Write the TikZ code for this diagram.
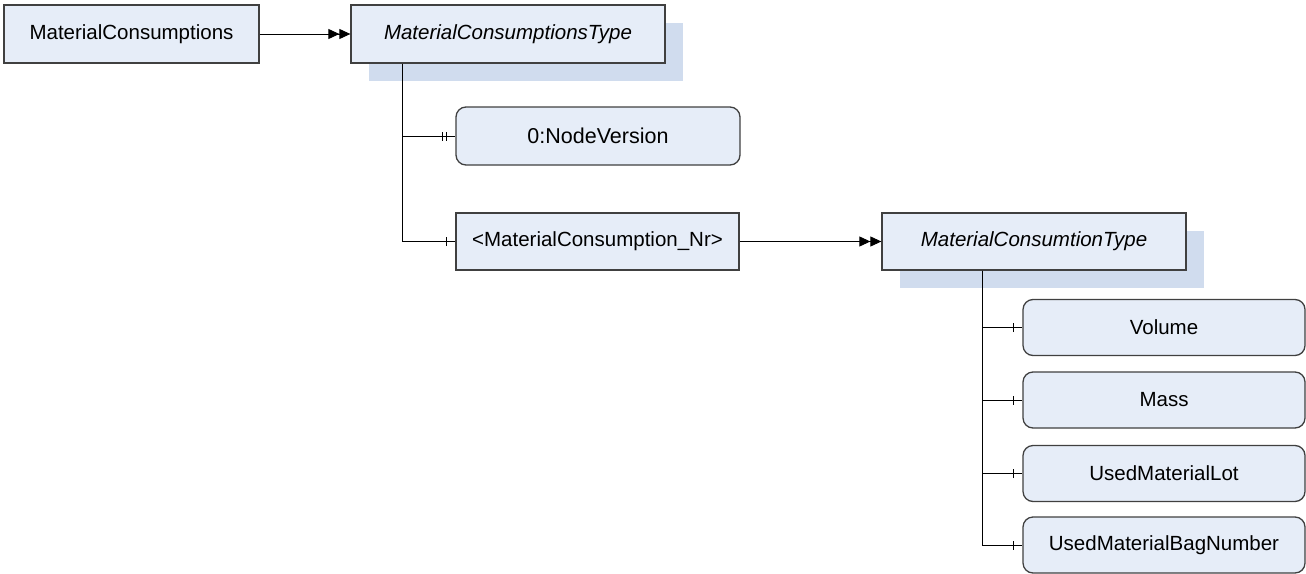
\documentclass[tikz,border=0pt]{standalone}
\usepackage{fontspec}
\setmainfont{Liberation Sans}
\usetikzlibrary{arrows.meta,shadows,decorations.markings,calc}
\definecolor{boxfill}{HTML}{E6EDF8}
\definecolor{shadowc}{HTML}{D0DCEE}
\definecolor{boxline}{HTML}{404040}
\tikzset{
  base/.style={draw=boxline, fill=boxfill, line width=1.3pt, inner sep=0pt,
    font=\fontsize{20.5}{24}\selectfont, text=black},
  plainbox/.style={base, rectangle},
  typebox/.style={base, rectangle, font=\fontsize{20.5}{24}\selectfont\itshape,
    general shadow={fill=shadowc, shadow xshift=18pt, shadow yshift=-18pt}},
  roundbox/.style={base, rectangle, rounded corners=10pt},
  conn/.style={draw=black, line width=0.9pt},
  dblarrow/.style={conn, -{Triangle[length=11pt,width=10pt,sep=0pt]Triangle[length=11pt,width=10pt]}},
  onetick/.style={conn, postaction={decorate, decoration={markings,
    mark=at position -9pt with {\draw[line width=0.8pt] (0,-4.5pt) -- (0,4.5pt);}}}},
  twotick/.style={conn, postaction={decorate, decoration={markings,
    mark=at position -13pt with {\draw[line width=0.8pt] (0,-4.5pt) -- (0,4.5pt);},
    mark=at position -9pt with {\draw[line width=0.8pt] (0,-4.5pt) -- (0,4.5pt);}}}},
}
\begin{document}
\begin{tikzpicture}[x=1pt,y=-1pt]
\useasboundingbox (0,0) rectangle (1306,573);
% nodes
\node[plainbox, minimum width=255pt, minimum height=58pt] (A) at (131.5,34) {MaterialConsumptions};
\node[typebox, minimum width=314pt, minimum height=58pt] (B) at (508,34) {MaterialConsumptionsType};
\node[roundbox, minimum width=284pt, minimum height=58pt, font=\fontsize{21.5}{24}\selectfont] (NV) at (598,136) {0:NodeVersion};
\node[plainbox, minimum width=283pt, minimum height=57pt] (MC) at (597.5,241.5) {<MaterialConsumption\_Nr>};
\node[typebox, minimum width=304pt, minimum height=57pt] (C) at (1034,241.5) {MaterialConsumtionType};
\node[roundbox, minimum width=282pt, minimum height=56pt] (V) at (1164,327.5) {Volume};
\node[roundbox, minimum width=282pt, minimum height=56pt] (M) at (1164,400) {Mass};
\node[roundbox, minimum width=282pt, minimum height=56pt] (L) at (1164,473.5) {UsedMaterialLot};
\node[roundbox, minimum width=282pt, minimum height=56pt] (G) at (1164,545) {UsedMaterialBagNumber};
% connectors
\draw[dblarrow] (A.east) -- (B.west |- A.east);
\draw[dblarrow] (MC.east) -- (C.west |- MC.east);
\coordinate (t1) at ($(B.south west)+(52,0)$);
\draw[twotick] (t1) |- (NV.west);
\draw[onetick] (t1) |- (MC.west);
\coordinate (t2) at ($(C.south west)+(101,0)$);
\draw[onetick] (t2) |- (V.west);
\draw[onetick] (t2) |- (M.west);
\draw[onetick] (t2) |- (L.west);
\draw[onetick] (t2) |- (G.west);
\end{tikzpicture}
\end{document}
